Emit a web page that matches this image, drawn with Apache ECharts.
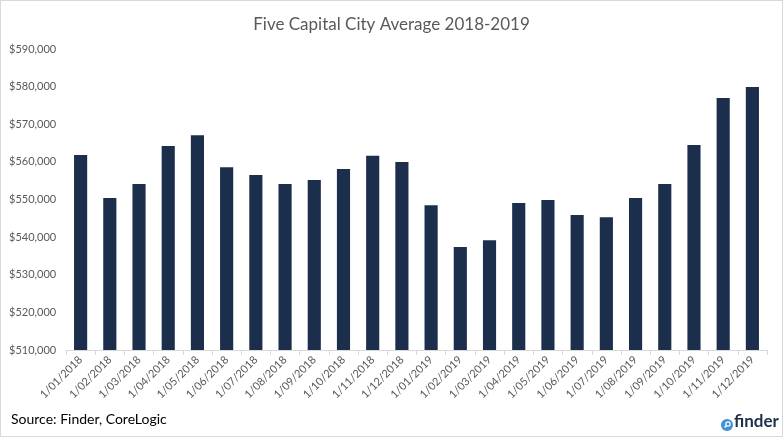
<!DOCTYPE html>
<html>
<head>
<meta charset="utf-8">
<script src="https://cdn.jsdelivr.net/npm/echarts@6/dist/echarts.min.js"></script>
<style>
html,body{margin:0;padding:0;background:#fff;}
#chart{width:783px;height:437px;box-sizing:border-box;border:1px solid #d9d9d9;}
</style>
</head>
<body>
<div id="chart"></div>
<script>
const categories = ["1/01/2018","1/02/2018","1/03/2018","1/04/2018","1/05/2018","1/06/2018","1/07/2018","1/08/2018","1/09/2018","1/10/2018","1/11/2018","1/12/2018",
  "1/01/2019","1/02/2019","1/03/2019","1/04/2019","1/05/2019","1/06/2019","1/07/2019","1/08/2019","1/09/2019","1/10/2019","1/11/2019","1/12/2019"];
const values = [561800,550400,554100,564200,567100,558600,556500,554100,555200,558100,561600,560000,
  548500,537400,539200,549100,549900,545900,545300,550400,554100,564500,577000,579900];
const yMin = 510000, yMax = 590000, yStep = 10000;

const chart = echarts.init(document.getElementById('chart'), null, {renderer:'canvas'});
const font = 'Lato';
chart.setOption({
  animation:false,
  title:{text:'Five Capital City Average 2018-2019', left:'center', top:10,
    textStyle:{fontFamily:font, fontSize:17, fontWeight:'normal', color:'#595959'}},
  grid:{left:65, right:15, top:48, bottom:86, containLabel:false},
  xAxis:{type:'category', data:categories,
    axisLine:{lineStyle:{color:'#d9d9d9'}},
    axisTick:{show:true, length:5, lineStyle:{color:'#d9d9d9'}},
    axisLabel:{rotate:45, fontFamily:font, fontSize:11, color:'#595959', margin:8, interval:0}},
  yAxis:{type:'value', min:yMin, max:yMax, interval:yStep,
    axisLine:{show:false}, axisTick:{show:false}, splitLine:{show:false},
    axisLabel:{fontFamily:font, fontSize:11, color:'#595959', align:'left', margin:57,
      formatter:v=>'$'+v.toLocaleString('en-US')}},
  series:[{type:'bar', data:values, barCategoryGap:'55%', itemStyle:{color:'#1b2f4c'}}],
  graphic:[
    {type:'text', left:10, top:411, style:{text:'Source: Finder, CoreLogic', fontFamily:font, fontSize:14, fill:'#000'}},
    {type:'circle', shape:{cx:726, cy:424, r:6}, style:{fill:'#3d8fd6'}},
    {type:'circle', shape:{cx:727, cy:423, r:2.2}, style:{fill:'none', stroke:'#fff', lineWidth:1.2}},
    {type:'line', shape:{x1:725.5, y1:424.5, x2:723.5, y2:426.5}, style:{stroke:'#fff', lineWidth:1.4}},
    {type:'text', left:733, top:412, style:{text:'finder', fontFamily:font, fontSize:17, fontWeight:'bold', fill:'#1b2f4c'}}
  ]
});
</script>
</body>
</html>
